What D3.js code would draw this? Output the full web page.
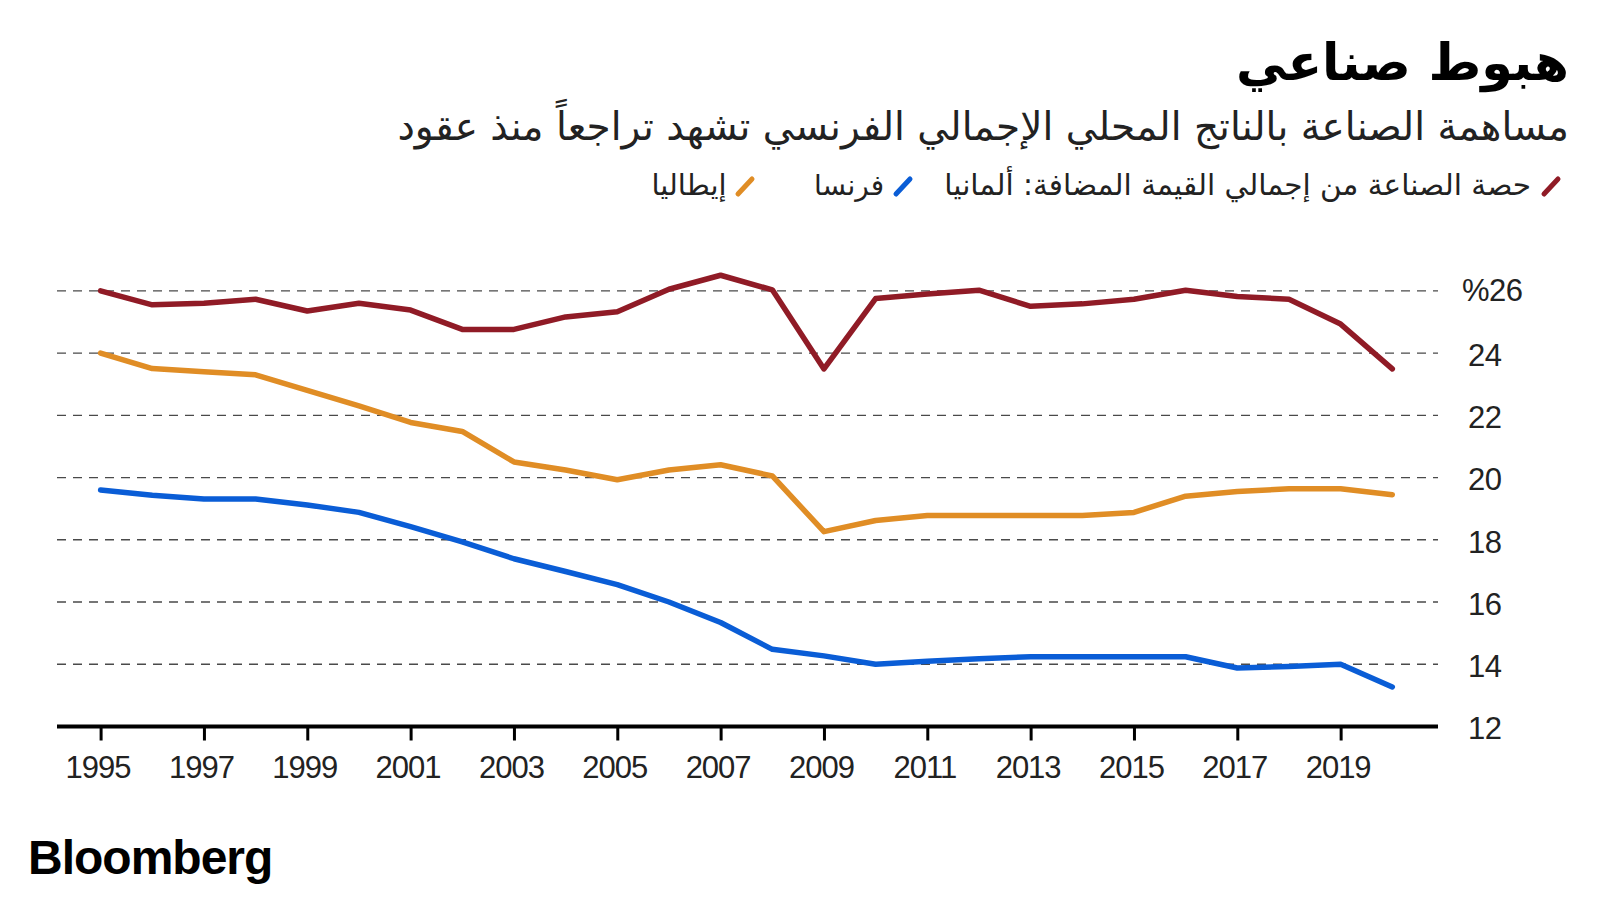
<!DOCTYPE html>
<html><head><meta charset="utf-8">
<script src="https://cdn.jsdelivr.net/npm/d3@7"></script>
<style>
html,body{margin:0;padding:0;background:#fff;}
svg{display:block;}
</style></head>
<body>
<svg id="c" width="1600" height="900"></svg>
<script>
const years = [1995,1996,1997,1998,1999,2000,2001,2002,2003,2004,2005,2006,2007,2008,2009,2010,2011,2012,2013,2014,2015,2016,2017,2018,2019,2020];
const germany = [26.0,25.55,25.6,25.73,25.35,25.6,25.38,24.76,24.76,25.16,25.33,26.05,26.5,26.03,23.49,25.75,25.9,26.02,25.5,25.58,25.73,26.02,25.82,25.73,24.93,23.49];
const italy = [24.0,23.5,23.4,23.3,22.8,22.3,21.77,21.48,20.5,20.24,19.93,20.24,20.41,20.05,18.26,18.62,18.78,18.78,18.78,18.78,18.88,19.4,19.55,19.64,19.64,19.45];
const france = [19.6,19.43,19.31,19.31,19.12,18.88,18.42,17.93,17.39,16.98,16.56,16.0,15.34,14.48,14.27,14.0,14.1,14.18,14.24,14.24,14.24,14.24,13.88,13.93,14.0,13.27];
const xTicks = [1995,1997,1999,2001,2003,2005,2007,2009,2011,2013,2015,2017,2019];
const yTicks = [12,14,16,18,20,22,24,26];
const yTickLabels = ["12","14","16","18","20","22","24","%26"];
const seriesNames = ["حصة الصناعة من إجمالي القيمة المضافة: ألمانيا","فرنسا","إيطاليا"];
const titleText = "هبوط صناعي";
const subtitleText = "مساهمة الصناعة بالناتج المحلي الإجمالي الفرنسي تشهد تراجعاً منذ عقود";

const colors = ["#901b26","#0a5dd6","#e08d25"];
const arFont = "'DejaVu Sans', 'Noto Sans', sans-serif";
const numFont = "'Liberation Sans', Arial, sans-serif";

const svg = d3.select("#c");
const x = d3.scaleLinear().domain([1995,2020]).range([100.6,1392.3]);
const y = d3.scaleLinear().domain([12,26]).range([726.5,290.8]);
const left = 57, right = 1438;

// gridlines
svg.append("g").selectAll("line").data(yTicks.filter(d=>d>12)).join("line")
  .attr("x1",left).attr("x2",right).attr("y1",d=>y(d)).attr("y2",d=>y(d))
  .attr("stroke","#4a4a4a").attr("stroke-width",1.3).attr("stroke-dasharray","9,7");

// y labels
svg.append("g").selectAll("text").data(yTicks).join("text")
  .attr("x",(d,i)=> i===yTicks.length-1 ? 1462 : 1468)
  .attr("y",(d,i)=>y(d)+(i===yTicks.length-1 ? -1 : 2)).attr("dy","0.35em")
  .attr("font-family",numFont).attr("font-size",31).attr("fill","#222")
  .attr("letter-spacing",-0.5)
  .text((d,i)=>yTickLabels[i]);

// x axis
const xAxis = d3.axisBottom(x).tickValues(xTicks).tickFormat(d3.format("d")).tickSize(14).tickSizeOuter(0);
const gx = svg.append("g").attr("transform",`translate(0,${y(12)})`).call(xAxis);
gx.select(".domain").remove();
gx.selectAll(".tick line").attr("stroke","#000").attr("stroke-width",3);
gx.selectAll(".tick text").attr("font-family",numFont).attr("font-size",31).attr("fill","#222")
  .attr("letter-spacing",-1).attr("y",29).attr("dy","0.71em").attr("dx",-3);
svg.append("line").attr("x1",left).attr("x2",right).attr("y1",y(12)).attr("y2",y(12))
  .attr("stroke","#000").attr("stroke-width",4);

// lines
const line = d3.line().x((d,i)=>x(years[i])).y(d=>y(d));
[germany,france,italy].forEach((s,k)=>{
  svg.append("path").datum(s).attr("d",line).attr("fill","none")
    .attr("stroke",colors[k]).attr("stroke-width",5.5)
    .attr("stroke-linejoin","round").attr("stroke-linecap","round");
});

// fit text helper
function fitText(sel, targetW){
  const w = sel.node().getComputedTextLength();
  const fs = parseFloat(sel.attr("font-size"));
  sel.attr("font-size", fs*targetW/w);
}

// title
const t = svg.append("text").attr("x",1569).attr("y",80).attr("text-anchor","end")
  .attr("font-family",arFont).attr("font-weight","bold").attr("font-size",52).attr("fill","#000").text(titleText);
fitText(t,333);
const st = svg.append("text").attr("x",1569).attr("y",140).attr("text-anchor","end")
  .attr("font-family",arFont).attr("font-size",30).attr("fill","#222").text(subtitleText);
fitText(st,1172);

// legend
const legend = [
  {icon:1541, right:1531, w:587},
  {icon:893, right:884, w:70},
  {icon:735, right:726.5, w:75}
];
legend.forEach((L,k)=>{
  svg.append("line").attr("x1",L.icon+3).attr("y1",194).attr("x2",L.icon+17).attr("y2",179)
    .attr("stroke",colors[k]).attr("stroke-width",5).attr("stroke-linecap","round");
  const lt = svg.append("text").attr("x",L.right).attr("y",195).attr("text-anchor","end")
    .attr("font-family",arFont).attr("font-size",24).attr("fill","#222").text(seriesNames[k]);
  fitText(lt,L.w);
});

// logo
svg.append("text").attr("x",28).attr("y",874).attr("font-family",numFont).attr("font-weight","bold")
  .attr("font-size",48).attr("letter-spacing",-1).attr("fill","#000").text("Bloomberg");
</script>
</body></html>
